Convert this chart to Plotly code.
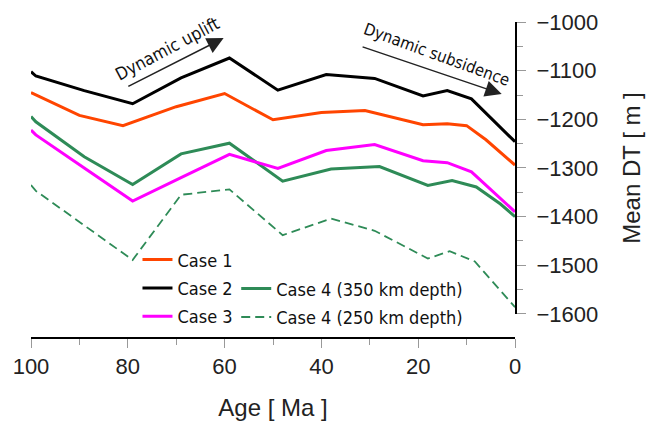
import plotly.graph_objects as go

# ---- data ----
ages_c1 = [100, 90, 81, 70, 60, 50, 40, 31, 19, 14, 10, 6, 0]
vals_c1 = [-1145, -1192, -1213, -1174, -1147, -1201, -1186, -1182, -1211, -1209, -1213, -1242, -1294]

ages_c2 = [100, 99, 89, 79, 69, 59, 49, 39, 29, 19, 14, 9, 0]
vals_c2 = [-1102, -1111, -1141, -1168, -1115, -1074, -1140, -1108, -1116, -1152, -1141, -1158, -1246]

ages_c3 = [100, 99, 89, 79, 69, 59, 49, 39, 29, 19, 14, 9, 0]
vals_c3 = [-1222, -1232, -1300, -1368, -1320, -1272, -1301, -1264, -1252, -1285, -1289, -1308, -1390]

ages_c4a = [100, 99, 89, 79, 69, 59, 48, 38, 28, 18, 13, 8, 3, 0]
vals_c4a = [-1194, -1205, -1277, -1334, -1271, -1249, -1327, -1302, -1297, -1336, -1326, -1339, -1374, -1400]

ages_c4b = [100, 99, 79, 69, 59, 48, 38, 29, 18, 13.5, 8.3, 0]
vals_c4b = [-1335, -1347, -1489, -1355, -1344, -1438, -1404, -1429, -1486, -1471, -1492, -1586]

names = ["Case 1", "Case 2", "Case 3", "Case 4 (350 km depth)", "Case 4 (250 km depth)"]

COND = "DejaVu Sans Condensed, Liberation Sans Narrow, sans-serif"
SANS = "Liberation Sans, Arial, Helvetica, sans-serif"

fig = go.Figure()
fig.add_trace(go.Scatter(x=ages_c4b, y=vals_c4b, mode="lines", name=names[4], legendrank=5,
                         legendgroup="g5",
                         line=dict(color="#2E8B57", width=1.8, dash="9px,5px"), legend="legend2"))
fig.add_trace(go.Scatter(x=ages_c4a, y=vals_c4a, mode="lines", name=names[3], legendrank=4,
                         legendgroup="g4",
                         line=dict(color="#2E8B57", width=3), legend="legend2"))
fig.add_trace(go.Scatter(x=ages_c3, y=vals_c3, mode="lines", name=names[2], legendrank=3,
                         legendgroup="g3",
                         line=dict(color="#FF00FF", width=3), legend="legend"))
fig.add_trace(go.Scatter(x=ages_c1, y=vals_c1, mode="lines", name=names[0], legendrank=1,
                         legendgroup="g1",
                         line=dict(color="#FF4500", width=3), legend="legend"))
fig.add_trace(go.Scatter(x=ages_c2, y=vals_c2, mode="lines", name=names[1], legendrank=2,
                         legendgroup="g2",
                         line=dict(color="#000000", width=3), legend="legend"))

leg_common = dict(xanchor="left", yanchor="top", bgcolor="rgba(0,0,0,0)",
                  font=dict(family=COND, size=18, color="#111"), tracegroupgap=2,
                  traceorder="grouped", itemwidth=30)

fig.update_layout(
    width=650, height=424,
    margin=dict(l=31, r=135, t=22, b=86, autoexpand=False),
    paper_bgcolor="white", plot_bgcolor="white",
    showlegend=True,
    xaxis=dict(range=[100, 0], anchor="free", position=0, automargin=False,
               showgrid=False, zeroline=False,
               showline=True, linecolor="black", linewidth=2,
               ticks="outside", ticklen=9, tickcolor="#999", tickwidth=1,
               tickmode="linear", tick0=0, dtick=20,
               minor=dict(ticks="outside", ticklen=6, tickcolor="#999", dtick=10, tick0=0, showgrid=False),
               tickfont=dict(family=SANS, size=22, color="#222"),
               ticklabelstandoff=0,
               title=dict(text="Age [ Ma ]", font=dict(family=SANS, size=24, color="#222"), standoff=20)),
    yaxis=dict(range=[-1600, -1000], domain=[0.076, 1], side="right", anchor="x", automargin=False,
               showgrid=False, zeroline=False,
               showline=True, linecolor="black", linewidth=2,
               ticks="outside", ticklen=9, tickcolor="#999", tickwidth=1,
               tickmode="linear", tick0=-1000, dtick=100,
               minor=dict(ticks="outside", ticklen=6, tickcolor="#999", dtick=50, showgrid=False),
               tickfont=dict(family=SANS, size=22, color="#222"),
               ticklabelstandoff=6,
               title=dict(text="Mean DT [ m ]", font=dict(family=SANS, size=24, color="#222"), standoff=26)),
    legend=dict(x=0.22, y=0.306, **leg_common),
    legend2=dict(x=0.424, y=0.214, **leg_common),
)

# arrows
fig.add_annotation(x=60.2, y=-1033, ax=80.2, ay=-1134, xref="x", yref="y", axref="x", ayref="y",
                   text="", showarrow=True, arrowhead=2, arrowsize=2.2, arrowwidth=1.5, arrowcolor="#222")
fig.add_annotation(x=2.75, y=-1148, ax=31.8, ay=-1050, xref="x", yref="y", axref="x", ayref="y",
                   text="", showarrow=True, arrowhead=2, arrowsize=2.2, arrowwidth=1.5, arrowcolor="#222")
fig.add_annotation(x=71.9, y=-1055, xref="x", yref="y", text="Dynamic uplift", showarrow=False,
                   textangle=-28, font=dict(family=COND, size=17.5, color="#111"))
fig.add_annotation(x=16.2, y=-1066, xref="x", yref="y", text="Dynamic subsidence", showarrow=False,
                   textangle=20, font=dict(family=COND, size=16.5, color="#111"))

fig.write_html("out.html")
